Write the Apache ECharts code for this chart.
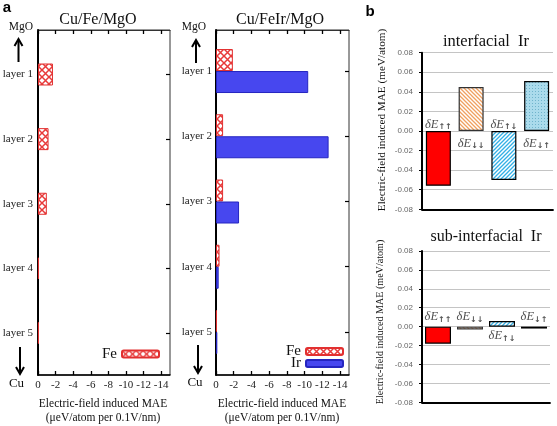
<!DOCTYPE html>
<html><head><meta charset="utf-8">
<script src="https://cdn.jsdelivr.net/npm/echarts@6/dist/echarts.min.js"></script>
<style>html,body{margin:0;padding:0;background:#fff}#c{width:557px;height:426px}</style>
</head><body><div id="c"></div>
<script>
// ---------- data ----------
const layers = ['layer 1', 'layer 2', 'layer 3', 'layer 4', 'layer 5'];
const feInFeMgO = [-1.7, -1.2, -1.0, -0.1, -0.1];
const feInFeIrMgO = [-1.9, -0.8, -0.8, -0.4, -0.1];
const irInFeIrMgO = [-10.4, -12.7, -2.6, -0.3, -0.15];
const maeTicks = [0, -2, -4, -6, -8, -10, -12, -14];
const spinCats = ['↑↑', '↓↓', '↑↓', '↓↑'];
const interfacialIr = [-0.056, 0.045, -0.050, 0.051];
const subInterfacialIr = [-0.018, -0.003, 0.006, -0.002];

// ---------- styles ----------
const SERIF = '"Liberation Serif", "DejaVu Serif", serif';
function pattern(kind, fg, bg) {
  const s = kind === 'cross' ? 7 : (kind === 'dots' ? 3 : 4);
  const c = document.createElement('canvas');
  c.width = c.height = s;
  const g = c.getContext('2d');
  g.fillStyle = bg; g.fillRect(0, 0, s, s);
  g.strokeStyle = fg; g.fillStyle = fg;
  if (kind === 'cross') {
    g.lineWidth = 1.5;
    g.beginPath();
    g.moveTo(0, 0); g.lineTo(s, s);
    g.moveTo(0, s); g.lineTo(s, 0);
    g.stroke();
  } else if (kind === 'back') { // "\\\"
    g.lineWidth = 1.3;
    g.beginPath();
    g.moveTo(-1, -1); g.lineTo(s + 1, s + 1);
    g.moveTo(-1, s - 1); g.lineTo(1, s + 1);
    g.moveTo(s - 1, -1); g.lineTo(s + 1, 1);
    g.stroke();
  } else if (kind === 'fwd') { // "///"
    g.lineWidth = 1.3;
    g.beginPath();
    g.moveTo(-1, s + 1); g.lineTo(s + 1, -1);
    g.moveTo(-1, 1); g.lineTo(1, -1);
    g.moveTo(s - 1, s + 1); g.lineTo(s + 1, s - 1);
    g.stroke();
  } else if (kind === 'dots') {
    g.fillRect(1, 1, 1, 1);
  }
  return { image: c, repeat: 'repeat' };
}
const feStyle = { color: pattern('cross', '#e83a3a', '#ffffff'), borderColor: '#e23030', borderWidth: 1 };
const irStyle = { color: '#4747ef', borderColor: '#2525c0', borderWidth: 1 };
const spinStyles = [
  { color: '#ff0000', borderColor: '#000', borderWidth: 1.2 },
  { color: pattern('back', '#f0a060', '#ffffff'), borderColor: '#333', borderWidth: 1.2 },
  { color: pattern('fwd', '#33b0e6', '#ffffff'), borderColor: '#000', borderWidth: 1.2 },
  { color: pattern('dots', '#70b4cc', '#abdbec'), borderColor: '#000', borderWidth: 1.2 }
];

// ---------- axes helpers ----------
function frameX(grid, bottom) {
  return {
    type: 'value', gridIndex: grid, min: -15, max: 0, inverse: true,
    position: bottom ? 'bottom' : 'top',
    axisLine: { show: true, onZero: false, lineStyle: { color: bottom ? '#000' : '#333', width: bottom ? 1.5 : 1 } },
    axisTick: { show: true, inside: true, length: 4, customValues: maeTicks, lineStyle: { color: '#000', width: 1.3 } },
    axisLabel: bottom ? { show: true, customValues: maeTicks, margin: 5, fontFamily: SERIF, fontSize: 11, color: '#222', formatter: v => String(v) } : { show: false },
    splitLine: { show: false }
  };
}
function frameY(grid) {
  return {
    type: 'value', gridIndex: grid, min: 0, max: 1,
    axisLine: { show: true, lineStyle: { color: '#000', width: 2 } },
    axisTick: { show: false }, axisLabel: { show: false }, splitLine: { show: false }
  };
}
function barX(grid) {
  return { type: 'value', gridIndex: grid, min: -15, max: 0, inverse: true, show: false };
}
function barYLeft(grid, margin) {
  return {
    type: 'category', gridIndex: grid, data: layers, inverse: true, position: 'left',
    axisLine: { show: false }, axisTick: { show: false },
    axisLabel: { margin: margin, fontFamily: SERIF, fontSize: 11, color: '#222' }
  };
}
function barYRight(grid) {
  return {
    type: 'category', gridIndex: grid, data: layers, inverse: true, position: 'right',
    axisLine: { show: false },
    axisTick: { show: true, inside: true, alignWithLabel: true, length: 4, lineStyle: { color: '#000', width: 1.2 } },
    axisLabel: { show: false }
  };
}
function bX(grid) {
  return {
    type: 'category', gridIndex: grid, data: spinCats, position: 'bottom',
    axisLine: { show: true, onZero: false, lineStyle: { color: '#000', width: 1.8 } },
    axisTick: { show: false }, axisLabel: { show: false }
  };
}
function bY(grid) {
  return {
    type: 'value', gridIndex: grid, min: -0.08, max: 0.08, interval: 0.02,
    axisLine: { show: true, lineStyle: { color: '#000', width: 2 } },
    axisTick: { show: true, length: 3, lineStyle: { color: '#000' } },
    axisLabel: { margin: 9, fontFamily: '"Liberation Sans", Arial, sans-serif', fontSize: 8, color: '#666', formatter: v => v.toFixed(2) },
    splitLine: { show: true, lineStyle: { color: '#c4c4c4', width: 1 } }
  };
}
function spinLabels(grid, values, upDist, downDist) {
  return {
    type: 'scatter', xAxisIndex: grid === 4 ? 6 : 7, yAxisIndex: grid === 4 ? 6 : 7,
    symbolSize: 0, silent: true, z: 5,
    data: spinCats.map((c, i) => ({
      value: [c, 0],
      label: {
        show: true,
        position: values[i] < 0 ? 'top' : 'bottom',
        distance: values[i] < 0 ? upDist : downDist,
        formatter: '{e|δE}{s|' + c + '}',
        rich: {
          e: { fontFamily: SERIF, fontStyle: 'italic', fontSize: 12.5, color: '#222' },
          s: { fontFamily: '"DejaVu Sans", sans-serif', fontSize: 8, fontWeight: 'bold', color: '#222', padding: [5, 0, 0, 0] }
        }
      }
    }))
  };
}
function arrow(x, yTail, yHead) {
  const d = yHead < yTail ? 1 : -1;
  return [
    { type: 'line', shape: { x1: x, y1: yTail, x2: x, y2: yHead + d }, style: { stroke: '#000', lineWidth: 2 } },
    { type: 'polyline', shape: { points: [[x - 4, yHead + d * 7], [x, yHead], [x + 4, yHead + d * 7]] }, style: { stroke: '#000', lineWidth: 2, fill: null } }
  ];
}
function txt(x, y, text, size, extra) {
  return Object.assign({ type: 'text', x: x, y: y, style: Object.assign({ text: text, fontFamily: SERIF, fontSize: size, fill: '#111', align: 'center', verticalAlign: 'middle' }, extra || {}) });
}
function grid(l, t, w, h, framed) {
  const g = { left: l, top: t, width: w, height: h, outerBoundsMode: 'none', containLabel: false };
  if (framed) Object.assign(g, { show: true, borderColor: '#333', borderWidth: 1, backgroundColor: 'transparent' });
  return g;
}

const option = {
  animation: false,
  backgroundColor: '#fff',
  grid: [
    grid(38, 30, 132, 345, true),
    grid(38, 42.2, 132, 323.1, false),
    grid(216, 30, 133, 345, true),
    grid(216, 38.4, 133, 326.2, false),
    grid(422, 52.7, 131, 156.6, false),
    grid(422, 251, 128, 151.3, false)
  ],
  xAxis: [
    frameX(0, true), frameX(0, false), barX(1),
    frameX(2, true), frameX(2, false), barX(3),
    bX(4), bX(5)
  ],
  yAxis: [
    frameY(0), barYLeft(1, 5), barYRight(1),
    frameY(2), barYLeft(3, 4), barYRight(3),
    bY(4), bY(5)
  ],
  legend: [
    { data: ['Fe'], orient: 'vertical', align: 'right', right: 397, top: 346.5, padding: 0, itemWidth: 37, itemHeight: 7, itemGap: 0,
      textStyle: { fontFamily: SERIF, fontSize: 15, color: '#111', lineHeight: 12 }, selectedMode: false },
    { data: ['Fe', 'Ir'], orient: 'vertical', align: 'right', right: 213, top: 344, padding: 0, itemWidth: 37, itemHeight: 7, itemGap: -3,
      textStyle: { fontFamily: SERIF, fontSize: 15, color: '#111', lineHeight: 12 }, selectedMode: false }
  ],
  series: [
    { name: 'Fe', type: 'bar', xAxisIndex: 2, yAxisIndex: 1, data: feInFeMgO, barWidth: 22, itemStyle: feStyle },
    { name: 'Fe', type: 'bar', xAxisIndex: 5, yAxisIndex: 4, data: feInFeIrMgO, barWidth: 22, barGap: '0%', itemStyle: feStyle },
    { name: 'Ir', type: 'bar', xAxisIndex: 5, yAxisIndex: 4, data: irInFeIrMgO, barWidth: 22, barGap: '0%', itemStyle: irStyle },
    { name: 'interfacial Ir', type: 'bar', xAxisIndex: 6, yAxisIndex: 6, barWidth: 25,
      data: interfacialIr.map((v, i) => ({ value: v, itemStyle: spinStyles[i] })) },
    { name: 'sub-interfacial Ir', type: 'bar', xAxisIndex: 7, yAxisIndex: 7, barWidth: 26,
      data: subInterfacialIr.map((v, i) => ({ value: v, itemStyle: spinStyles[i] })) },
    spinLabels(4, interfacialIr, 0, 6),
    spinLabels(5, subInterfacialIr, 3, 3)
  ],
  graphic: [
    txt(7, 8, 'a', 15, { fontFamily: '"Liberation Sans", Arial, sans-serif', fontWeight: 'bold', fill: '#000' }),
    txt(370, 12, 'b', 15, { fontFamily: '"Liberation Sans", Arial, sans-serif', fontWeight: 'bold', fill: '#000' }),
    txt(98, 20, 'Cu/Fe/MgO', 16),
    txt(280, 20, 'Cu/FeIr/MgO', 16),
    txt(21, 27, 'MgO', 11.5),
    txt(194, 27, 'MgO', 11.5),
    txt(16.5, 384, 'Cu', 13),
    txt(195, 383, 'Cu', 13),
    ...arrow(18.5, 62, 39),
    ...arrow(196, 63, 40),
    ...arrow(20, 347, 374),
    ...arrow(198, 345, 373),
    txt(103, 404, 'Electric-field induced MAE', 11.5),
    txt(103, 418, '(μeV/atom per 0.1V/nm)', 11.5),
    txt(282, 404, 'Electric-field induced MAE', 11.5),
    txt(282, 418, '(μeV/atom per 0.1V/nm)', 11.5),
    txt(486, 42, 'interfacial  Ir', 16.5),
    txt(486, 237, 'sub-interfacial  Ir', 16),
    Object.assign(txt(382, 120, 'Electric-field induced MAE (meV/atom)', 11.2), { rotation: Math.PI / 2 }),
    Object.assign(txt(380, 322, 'Electric-field induced MAE (meV/atom)', 10.1), { rotation: Math.PI / 2 })
  ]
};
const chart = echarts.init(document.getElementById('c'), null, { renderer: 'canvas' });
chart.setOption(option);
</script></body></html>
